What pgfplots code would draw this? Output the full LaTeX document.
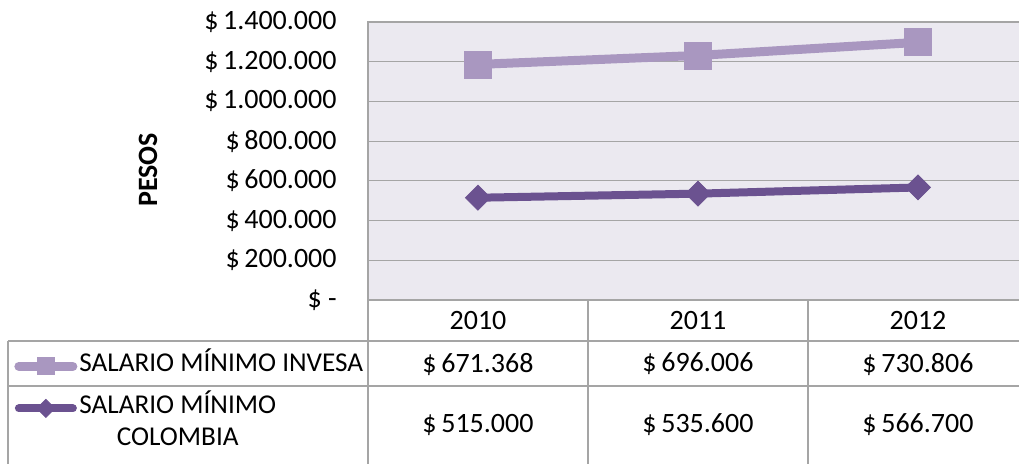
\documentclass[border=0pt]{standalone}
\usepackage{fontspec}
\setmainfont{Carlito}
\usepackage{pgfplots}
\pgfplotsset{compat=1.18}
\definecolor{invesa}{RGB}{169,151,192}
\definecolor{colombia}{RGB}{107,82,144}
\definecolor{plotbg}{RGB}{235,233,240}
\definecolor{gridc}{RGB}{165,165,165}
\newcommand\cf{\fontsize{14pt}{16.5pt}\selectfont}
\newcommand\lf{\fontsize{13.6pt}{16pt}\selectfont}
\pgfplotsset{
  keyinv/.style={legend image code/.code={\draw[mark repeat=2, mark phase=2, ##1, mark size=4.25pt, line cap=round]
        plot coordinates {(0pt,0pt)(13.5pt,0pt)(27pt,0pt)};}},
  keycol/.style={legend image code/.code={\draw[mark repeat=2, mark phase=2, ##1, mark size=3.2pt, line cap=round]
        plot coordinates {(0pt,0pt)(13.5pt,0pt)(27pt,0pt)};}},
}

\begin{document}
\begin{tikzpicture}[x=0.5pt,y=-0.5pt]
\useasboundingbox (0,0) rectangle (1019,464);
\begin{scope}
\clip (0,0) rectangle (1019,464);
\begin{axis}[
    at={(184pt,-150pt)}, anchor=south west,
    scale only axis,
    width=330pt, height=139pt,
    xmin=-0.5, xmax=2.5,
    ymin=0, ymax=1400000,
    xtick=\empty,
    scaled y ticks=false,
    ytick={0,200000,400000,600000,800000,1000000,1200000,1400000},
    yticklabels={{\$ -\hspace{6pt}},{\$\,200.000},{\$\,400.000},{\$\,600.000},{\$\,800.000},{\$\,1.000.000},{\$\,1.200.000},{\$\,1.400.000}},
    yticklabel style={font=\cf, anchor=east, inner sep=0pt, xshift=-15.5pt},
    major tick length=0pt,
    ymajorgrids,
    grid style={gridc, line width=0.6pt},
    axis line style={gridc, line width=0.6pt},
    axis background/.style={fill=plotbg},
    stack plots=y,
    reverse legend,
    legend style={at={(-0.5364,-0.205)}, anchor=north west, draw=none, fill=none,
        font=\lf, inner sep=0pt, row sep=12pt, column sep=1pt,
        nodes={inner sep=0pt, text height=7pt, text depth=2pt},
        cells={anchor=west}},
]
% Colombia (base of the stack)
\addplot[colombia, line width=4pt, mark=square*, mark size=4.4pt,
    mark options={rotate=45, line width=0.4pt}, keycol] coordinates {
    (0,515000) (1,535600) (2,566700)
};
\addlegendentry{\raisebox{0pt}[\height][0pt]{\begin{tabular}[t]{@{}c@{}}SALARIO MÍNIMO\\COLOMBIA\end{tabular}}}
% INVESA (stacked on top)
\addplot[invesa, line width=4.5pt, mark=square*, mark size=6.75pt,
    mark options={line width=0.4pt}, keyinv] coordinates {
    (0,671368) (1,696006) (2,730806)
};
\addlegendentry{SALARIO MÍNIMO INVESA}
\end{axis}

% data table
\draw[gridc, line width=0.6pt] (368,300) -- (368,470);
\draw[gridc, line width=0.6pt] (588,300) -- (588,470);
\draw[gridc, line width=0.6pt] (808,300) -- (808,470);
\draw[gridc, line width=0.6pt] (1028,300) -- (1028,470);
\draw[gridc, line width=0.6pt] (8,341) -- (1028,341);
\draw[gridc, line width=0.6pt] (8,386) -- (1028,386);
\draw[gridc, line width=0.6pt] (8,341) -- (8,470);
\end{scope}

\node[font=\cf\bfseries, rotate=90] at (148,170) {PESOS};

\node[font=\cf] at (478,321) {2010};
\node[font=\cf] at (698,321) {2011};
\node[font=\cf] at (918,321) {2012};
\node[font=\cf] at (478,364) {\$\,671.368};
\node[font=\cf] at (698,364) {\$\,696.006};
\node[font=\cf] at (918,364) {\$\,730.806};
\node[font=\cf] at (478,425) {\$\,515.000};
\node[font=\cf] at (698,425) {\$\,535.600};
\node[font=\cf] at (918,425) {\$\,566.700};
\end{tikzpicture}
\end{document}
